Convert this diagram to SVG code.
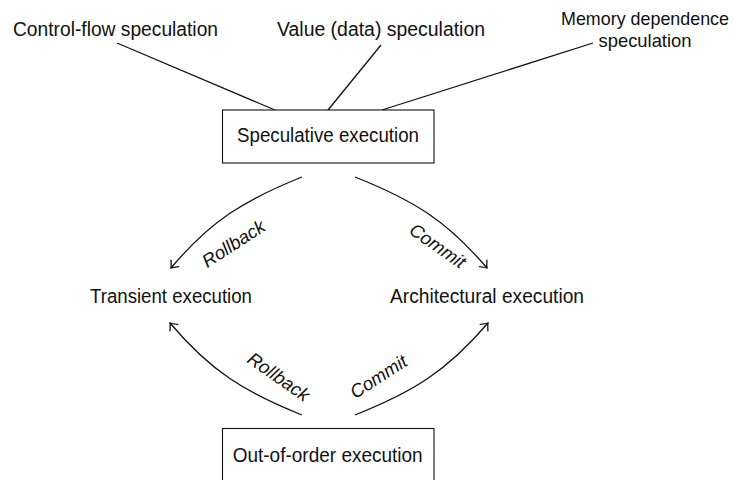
<svg xmlns="http://www.w3.org/2000/svg" width="734" height="480" viewBox="0 0 734 480">
  <style>
    .lbl { font-family: "Liberation Sans", Arial, sans-serif; font-size: 20px; fill: #111; text-anchor: middle; }
    .lbl.sm { font-size: 18.5px; }
    .edge { font-family: "Liberation Sans", Arial, sans-serif; font-size: 18.5px; font-style: italic; fill: #111; text-anchor: middle; }
    .box { fill: #fff; stroke: #111; stroke-width: 1.1; }
    .link { fill: none; stroke: #111; stroke-width: 1.3; }
    .arc { fill: none; stroke: #111; stroke-width: 1.3; marker-end: url(#tip); }
  </style>
  <defs>
    <marker id="tip" markerUnits="userSpaceOnUse" viewBox="-8 -7 10 14" refX="0" refY="0" markerWidth="10" markerHeight="14" orient="auto">
      <path d="M -6,-5 Q -2,-1.2 0,0 Q -2,1.2 -6,5" fill="none" stroke="#111" stroke-width="1.3" stroke-linecap="round"/>
    </marker>
  </defs>

  <rect width="734" height="480" fill="#fff"/>

  <!-- connectors -->
  <g id="connectors">
    <line class="link" x1="117" y1="43" x2="275" y2="110"/>
    <line class="link" x1="381" y1="45" x2="328" y2="110"/>
    <line class="link" x1="593" y1="43" x2="382" y2="110"/>

    <path class="arc" d="M 302,177 C 244.5,200 211,220.5 171,268"/>
    <path class="arc" d="M 355,177 C 413,200 446.5,220.5 487,268"/>
    <path class="arc" d="M 302,415 C 244.5,392 211,371.5 170,323"/>
    <path class="arc" d="M 355,415 C 413,392 446.5,371.5 488,323"/>

    <text class="edge" transform="translate(237,249) rotate(-33)">Rollback</text>
    <text class="edge" transform="translate(434,251) rotate(35)">Commit</text>
    <text class="edge" transform="translate(275,382) rotate(35)">Rollback</text>
    <text class="edge" transform="translate(382,382) rotate(-33)">Commit</text>
  </g>

  <!-- nodes -->
  <g id="control-flow">
    <text class="lbl" x="115.5" y="36" textLength="205" lengthAdjust="spacingAndGlyphs">Control-flow speculation</text>
  </g>
  <g id="value">
    <text class="lbl" x="381" y="36" textLength="208" lengthAdjust="spacingAndGlyphs">Value (data) speculation</text>
  </g>
  <g id="memory">
    <text class="lbl sm" x="645" y="25" textLength="168" lengthAdjust="spacingAndGlyphs">Memory dependence</text>
    <text class="lbl sm" x="645" y="47" textLength="93" lengthAdjust="spacingAndGlyphs">speculation</text>
  </g>
  <g id="speculative">
    <rect class="box" x="222.5" y="110" width="211.5" height="53"/>
    <text class="lbl" x="328" y="142" textLength="182" lengthAdjust="spacingAndGlyphs">Speculative execution</text>
  </g>
  <g id="transient">
    <text class="lbl" x="171" y="303" textLength="162" lengthAdjust="spacingAndGlyphs">Transient execution</text>
  </g>
  <g id="architectural">
    <text class="lbl" x="487" y="303" textLength="194" lengthAdjust="spacingAndGlyphs">Architectural execution</text>
  </g>
  <g id="out-of-order">
    <rect class="box" x="222.5" y="428.5" width="211.5" height="53"/>
    <text class="lbl" x="327.7" y="462" textLength="190" lengthAdjust="spacingAndGlyphs">Out-of-order execution</text>
  </g>
</svg>
